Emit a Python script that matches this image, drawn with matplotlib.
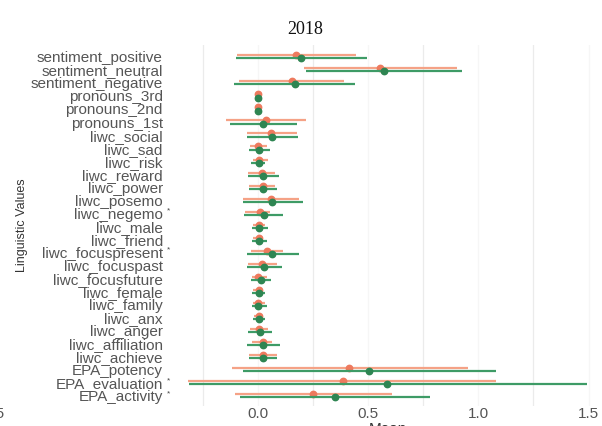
import numpy as np
import matplotlib.pyplot as plt
from matplotlib.transforms import blended_transform_factory, offset_copy

plt.rcParams['font.family'] = ['Liberation Sans', 'DejaVu Sans']

# rows, top to bottom
labels = ['sentiment_positive', 'sentiment_neutral', 'sentiment_negative',
          'pronouns_3rd', 'pronouns_2nd', 'pronouns_1st',
          'liwc_social', 'liwc_sad', 'liwc_risk', 'liwc_reward', 'liwc_power',
          'liwc_posemo', 'liwc_negemo', 'liwc_male', 'liwc_friend',
          'liwc_focuspresent', 'liwc_focuspast', 'liwc_focusfuture',
          'liwc_female', 'liwc_family', 'liwc_anx', 'liwc_anger',
          'liwc_affiliation', 'liwc_achieve',
          'EPA_potency', 'EPA_evaluation', 'EPA_activity']
starred = ['liwc_negemo', 'liwc_focuspresent', 'EPA_evaluation', 'EPA_activity']

# first group (orange-red)
red_mean = [0.172, 0.553, 0.154, 0.0, 0.0, 0.036,
            0.059, 0.0, 0.005, 0.018, 0.023,
            0.059, 0.009, 0.005, 0.005,
            0.041, 0.018, 0.0,
            0.005, 0.0, 0.005, 0.005,
            0.023, 0.023,
            0.412, 0.385, 0.249]
red_lo = [-0.095, 0.208, -0.086, -0.004, -0.004, -0.145,
          -0.050, -0.036, -0.023, -0.045, -0.041,
          -0.068, -0.059, -0.023, -0.023,
          -0.032, -0.045, -0.027,
          -0.023, -0.023, -0.018, -0.036,
          -0.027, -0.041,
          -0.118, -0.317, -0.104]
red_hi = [0.444, 0.902, 0.390, 0.004, 0.004, 0.218,
          0.177, 0.041, 0.045, 0.077, 0.077,
          0.186, 0.054, 0.032, 0.023,
          0.113, 0.086, 0.041,
          0.023, 0.032, 0.023, 0.045,
          0.063, 0.086,
          0.952, 1.078, 0.607]

# second group (green)
green_mean = [0.195, 0.571, 0.168, 0.0, 0.0, 0.023,
              0.063, 0.005, 0.005, 0.023, 0.023,
              0.063, 0.027, 0.005, 0.005,
              0.063, 0.027, 0.014,
              0.005, 0.0, 0.005, 0.009,
              0.023, 0.023,
              0.503, 0.585, 0.349]
green_lo = [-0.100, 0.217, -0.109, -0.004, -0.004, -0.127,
            -0.050, -0.041, -0.032, -0.045, -0.041,
            -0.068, -0.063, -0.027, -0.027,
            -0.050, -0.050, -0.032,
            -0.027, -0.027, -0.023, -0.045,
            -0.050, -0.041,
            -0.068, -0.313, -0.082]
green_hi = [0.494, 0.924, 0.440, 0.004, 0.004, 0.177,
            0.181, 0.054, 0.032, 0.095, 0.086,
            0.204, 0.113, 0.045, 0.041,
            0.186, 0.109, 0.059,
            0.032, 0.041, 0.032, 0.063,
            0.100, 0.086,
            1.078, 1.491, 0.779]

red_line, red_pt = '#F5A286', '#EE7A5E'
green_line, green_pt = '#3E9B66', '#2E8552'
tick_col = '#555555'

fig = plt.figure(figsize=(6.02, 4.26), dpi=100)
ax = fig.add_axes([0.307, 0.047, 0.689, 0.847])

y = np.arange(len(labels))
dodge = 0.12
ax.hlines(y - dodge, red_lo, red_hi, color=red_line, lw=1.6, zorder=2)
ax.plot(red_mean, y - dodge, 'o', color=red_pt, ms=4.6, zorder=3)
ax.hlines(y + dodge, green_lo, green_hi, color=green_line, lw=1.6, zorder=4)
ax.plot(green_mean, y + dodge, 'o', color=green_pt, ms=4.6, zorder=5)

ax.set_xlim(-0.331, 1.55)
ax.set_ylim(26.8, -0.9)
ax.set_xticks([0, 0.5, 1.0, 1.5])
ax.set_xticklabels(['0.0', '0.5', '1.0', '1.5'])
ax.set_xticks([-0.25, 0.25, 0.75, 1.25], minor=True)
ax.set_yticks(y)
ax.set_yticklabels(labels)
ax.grid(which='minor', axis='x', color='#ebebeb', lw=0.9)
ax.grid(which='major', axis='x', color='#f6f6f6', lw=0.9)
ax.set_axisbelow(True)
for s in ax.spines.values():
    s.set_visible(False)
ax.tick_params(axis='y', length=0, pad=15.8, labelsize=11, labelcolor=tick_col)
ax.tick_params(axis='x', which='both', length=0, pad=0.5, labelsize=11, labelcolor=tick_col)

# significance marks after some row labels
trans = offset_copy(blended_transform_factory(ax.transAxes, ax.transData),
                    fig=fig, x=-16, y=2, units='dots')
for name in starred:
    ax.text(0, labels.index(name), '*', transform=trans, fontsize=6,
            color='#444444', ha='center', va='center')

fig.text(305 / 602, 1 - 29 / 426, '2018', family='Liberation Serif',
         fontsize=13, ha='center', va='center', color='#111111')
fig.text(22 / 602, 0.5 * (2 - (45 + 406) / 426), 'Linguistic Values',
         rotation=90, fontsize=9, ha='center', va='center', color='#333333')
fig.text(388 / 602, 1 - 429 / 426, 'Mean', fontsize=11,
         ha='center', va='center', color='#333333')
# edge of the neighbouring panel's axis
fig.text(5 / 602, 1 - 414 / 426, '1.5', fontsize=11, ha='right',
         va='center', color=tick_col)

plt.savefig('out.png', dpi=100)
